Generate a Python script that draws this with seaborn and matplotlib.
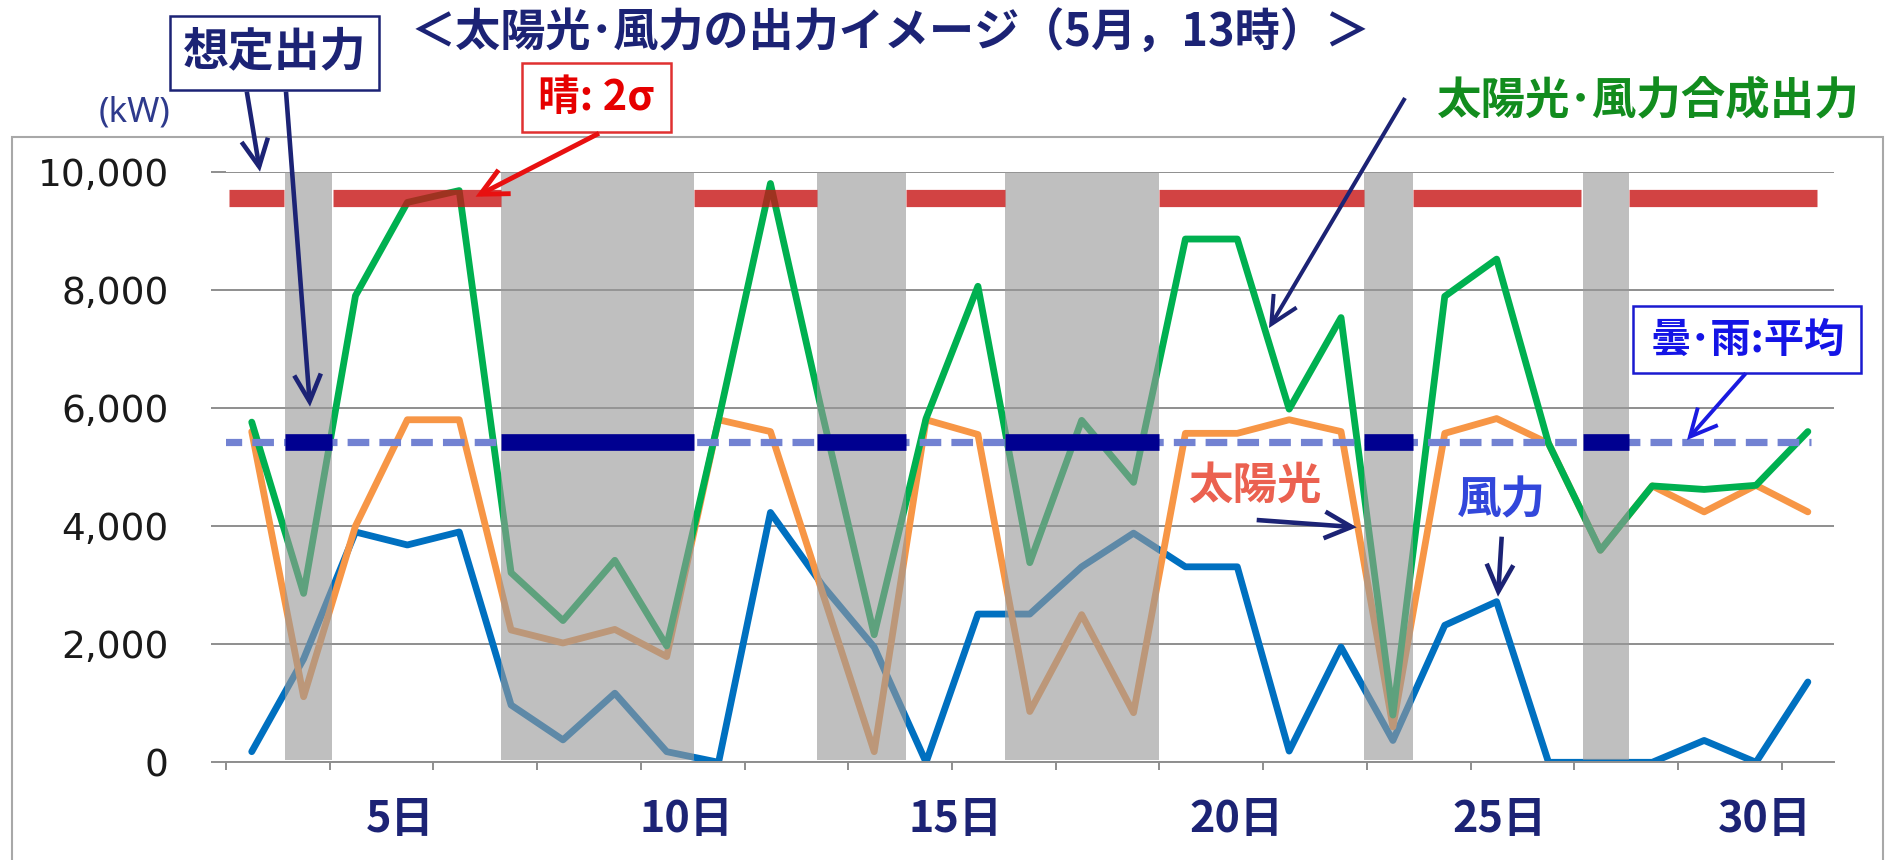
import numpy as np
import pandas as pd
import matplotlib
matplotlib.use("Agg")
import matplotlib.pyplot as plt
import seaborn as sns
from matplotlib.patches import Rectangle, FancyArrowPatch

# ---------------- data ----------------
days = list(range(1, 32))
solar = [5600, 1110, 4000, 5800, 5800, 2240, 2020, 2250, 1790, 5800,
         5600, 2880, 180, 5800, 5550, 860, 2500, 840, 5570, 5570,
         5800, 5600, 600, 5570, 5820, 5400, 3590, 4680, 4240, 4690, 4240]
wind = [180, 1750, 3900, 3680, 3900, 970, 380, 1170, 180, 0,
        4230, 3000, 1950, 0, 2510, 2510, 3310, 3880, 3310, 3310,
        190, 1950, 370, 2320, 2720, 0, 0, 0, 370, 0, 1360]
combined = [5760, 2860, 7900, 9480, 9680, 3210, 2400, 3420, 1970, 5800,
            9800, 5900, 2160, 5820, 8060, 3380, 5790, 4740, 8860, 8860,
            5980, 7530, 800, 7890, 8520, 5400, 3590, 4680, 4620, 4690, 5600]
series_names = ["風力", "太陽光", "太陽光･風力合成出力"]

# sunny (2σ level) and cloudy/rainy (mean level) day spans, in day units
sunny_spans = [(0.56, 1.62), (2.57, 5.80), (9.52, 11.90), (13.61, 15.52),
               (18.49, 22.44), (23.38, 26.63), (27.55, 31.17)]
cloudy_spans = [(1.64, 2.55), (5.81, 9.52), (11.90, 13.61), (15.53, 18.49),
                (22.45, 23.38), (26.66, 27.55)]
sunny_level = 9560
cloudy_level = 5430
mean_line_span = (0.38, 31.06)

y_ticks = [0, 2000, 4000, 6000, 8000, 10000]
x_labels = ["5日", "10日", "15日", "20日", "25日", "30日"]
x_label_pos = [3.86, 9.38, 14.57, 19.98, 25.05, 30.16]

# ---------------- style ----------------
W, H = 1888, 860
sns.set_theme(style="white")
plt.rcParams["font.family"] = ["Noto Sans CJK JP", "DejaVu Sans"]

NAVY = "#1C2375"
GRID = "#8E8E8E"
colors = {"太陽光": "#F79646", "風力": "#0070C0", "太陽光･風力合成出力": "#00B050"}

fig = plt.figure(figsize=(W / 100, H / 100), dpi=100)
fig.patch.set_facecolor("white")
ax = fig.add_axes([225.8 / W, 1 - 762.3 / H, (1833.8 - 225.8) / W, (762.3 - 171.7) / H])
ax.set_facecolor("white")

df = pd.DataFrame({
    "day": days * 3,
    "kW": wind + solar + combined,
    "series": [series_names[0]] * 31 + [series_names[1]] * 31 + [series_names[2]] * 31,
})
sns.lineplot(data=df, x="day", y="kW", hue="series", hue_order=series_names,
             palette=colors, linewidth=4.9, legend=False, ax=ax, zorder=2)

# gray cloudy bands drawn over the lines (semi-transparent)
for s, e in cloudy_spans:
    ax.axvspan(s, e, ymin=0.004, ymax=1.0, color=(0.6, 0.6, 0.6), alpha=0.62, lw=0, zorder=3)

# assumed output levels
for s, e in sunny_spans:
    ax.hlines(sunny_level, s, e, colors=(0.78, 0.08, 0.08), alpha=0.8, linewidth=12.4,
              zorder=4, capstyle="butt")
ax.hlines(cloudy_level, mean_line_span[0], mean_line_span[1], colors="#7282D2",
          linewidth=5.2, linestyles=(0, (3.0, 1.4)), zorder=5)
for s, e in cloudy_spans:
    ax.hlines(cloudy_level, s, e, colors="#000090", linewidth=12.0, zorder=6, capstyle="butt")

# axes
ax.set_xlim(0.5, 31.5)
ax.set_ylim(0, 10000)
ax.set_xlabel("")
ax.set_ylabel("")
ax.set_yticks(y_ticks)
ax.set_yticklabels([f"{v:,}" for v in y_ticks])
ax.yaxis.grid(True, color=GRID, linewidth=1.4)
ax.xaxis.grid(False)
ax.set_axisbelow(True)
for side in ["left", "right", "top"]:
    ax.spines[side].set_visible(False)
ax.spines["bottom"].set_color(GRID)
ax.spines["bottom"].set_linewidth(1.4)
ax.tick_params(axis="y", left=True, length=11, width=1.4, color=GRID, pad=30,
               labelsize=27, labelcolor="#1a1a1a", labelfontfamily="DejaVu Sans")
ax.set_xticks(x_label_pos)
ax.set_xticklabels(x_labels)
ax.set_xticks(np.arange(0.5, 31.6, 2), minor=True)
ax.tick_params(axis="x", which="major", bottom=True, length=0, pad=25,
               labelsize=31, labelcolor=NAVY)
ax.tick_params(axis="x", which="minor", bottom=True, length=6, width=1.4, color=GRID)
for lbl in ax.get_xticklabels():
    lbl.set_fontweight("bold")

# ---------------- annotations (figure pixel layout) ----------------
def P(x, y):
    return (x / W, 1 - y / H)

def box(x0, y0, x1, y1, color, lw=1.8):
    fig.add_artist(Rectangle(P(x0, y1), (x1 - x0) / W, (y1 - y0) / H,
                             transform=fig.transFigure, fill=True, facecolor="white",
                             edgecolor=color, lw=lw, zorder=10))

def arrow(a, b, color, lw=3.3, ms=30):
    fig.add_artist(FancyArrowPatch(P(*a), P(*b), transform=fig.transFigure,
                                   arrowstyle="->,head_length=0.65,head_width=0.32",
                                   mutation_scale=ms, lw=lw, color=color,
                                   shrinkA=0, shrinkB=0, zorder=11,
                                   joinstyle="miter", capstyle="butt"))

def label(x, y, s, size, color, weight="bold", family=None):
    fig.text(*P(x, y), s, ha="center", va="center", fontsize=size, color=color,
             fontweight=weight, zorder=12,
             family=family if family else ["Noto Sans CJK JP", "DejaVu Sans"])

# chart area border
fig.add_artist(Rectangle((12 / W, -0.05), (1883 - 12) / W, (1 - 137 / H) + 0.05,
                         transform=fig.transFigure, fill=False, edgecolor="#A8A8A8",
                         lw=1.5, zorder=1))

label(890.7, 33, "＜太陽光･風力の出力イメージ（5月，13時）＞", 32.5, NAVY)

box(170, 16, 379, 90, NAVY)
label(274.5, 52.5, "想定出力", 33, NAVY)
arrow((246.8, 91.7), (260, 171.7), NAVY)
arrow((286, 91.7), (310, 406.7), NAVY)

label(134, 112.5, "(kW)", 25, "#2E3A8C", weight="normal", family=["Noto Sans", "DejaVu Sans"])

box(521.8, 63.3, 670.8, 131.7, "#E03030")
label(596, 98, "晴: 2σ", 30, "#E60000")
arrow((599, 133.3), (475.6, 196.7), "#E81010", lw=3.5)

label(1648.8, 101, "太陽光･風力合成出力", 32, "#128C1E")
arrow((1405, 98), (1269, 328), NAVY, lw=2.9)

box(1633, 305.7, 1861, 373.3, "#1A1AD0")
label(1748, 340, "曇･雨:平均", 29, "#1414E6")
arrow((1745.8, 373.3), (1687, 440), "#1A1AE0", lw=2.8)

label(1256, 486, "太陽光", 32, "#EB6150")
arrow((1256.7, 520), (1356.7, 527.3), NAVY)

label(1501, 500, "風力", 32, "#3247DB")
arrow((1501.7, 536.7), (1498, 596.7), NAVY)

fig.savefig("out.png", dpi=100, facecolor="white")
